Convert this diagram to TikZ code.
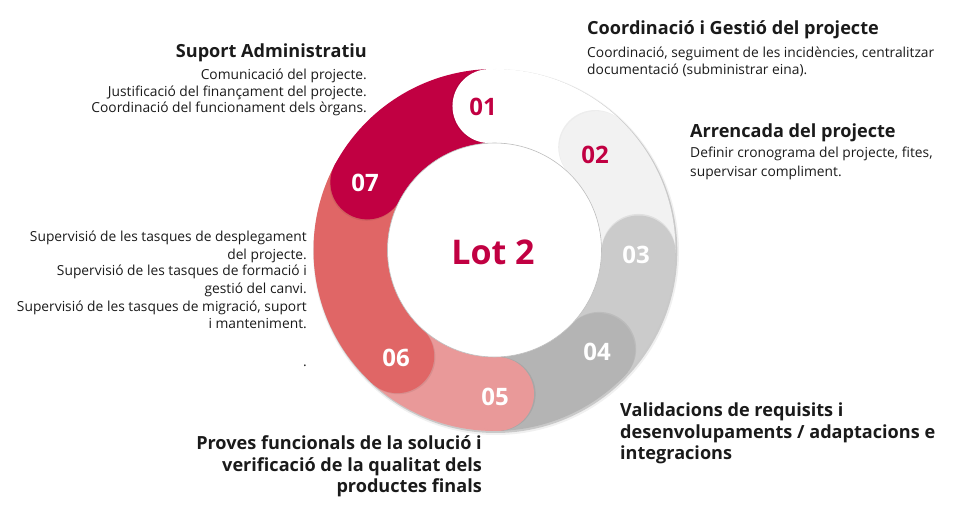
\documentclass[tikz,border=0pt]{standalone}
\usepackage{fontspec}
\setmainfont{Open Sans}
\definecolor{c01}{HTML}{FFFFFF}
\definecolor{c02}{HTML}{F2F2F2}
\definecolor{c03}{HTML}{CBCBCB}
\definecolor{c04}{HTML}{B4B4B4}
\definecolor{c05}{HTML}{E99999}
\definecolor{c06}{HTML}{E06666}
\definecolor{c07}{HTML}{C10042}
\definecolor{txt}{HTML}{1A1A1A}
\newcommand\ringseg[3]{\fill[#3] ([shift={(#1:181pt)}]C) arc[start angle=#1,end angle=#2,radius=181pt] -- ([shift={(#2:107pt)}]C) arc[start angle=#2,end angle=#1,radius=107pt] -- cycle;}
\newcommand\ringcap[2]{\fill[black,opacity=0.07] ([shift={(#1:144pt)},shift={(#1+90:1.6pt)}]C) circle[radius=37pt];\fill[#2] ([shift={(#1:144pt)}]C) circle[radius=37pt];}
\begin{document}
\begin{tikzpicture}[x=1pt,y=1pt,
  body/.style={font=\fontsize{13.8}{16}\selectfont, text=txt, inner sep=0pt},
  head/.style={font=\bfseries\fontsize{18.1}{21}\selectfont, text=txt, inner sep=0pt},
  num/.style={font=\bfseries\fontsize{24}{26}\selectfont, inner sep=0pt},
]
\useasboundingbox (0,0) rectangle (961,514);
\coordinate (C) at (494.5,264);
% shadow of ring
\fill[black,opacity=0.06] ([shift={(1.5pt,-2pt)}]C) circle[radius=183pt];
\fill[black,opacity=0.16] ([shift={(1pt,-1.2pt)}]C) circle[radius=181.8pt];
% bodies
\ringseg{92}{45}{c01}
\ringseg{45}{-1}{c02}
\ringseg{-1}{-44}{c03}
\ringseg{-44}{-89}{c04}
\ringseg{-89}{-132.5}{c05}
\ringseg{-132.5}{-208}{c06}
\ringseg{-208}{-268}{c07}
% caps
\begin{scope}
\clip (C) circle[radius=181pt];
\ringcap{92}{c01}
\ringcap{45}{c02}
\ringcap{-1}{c03}
\ringcap{-44}{c04}
\ringcap{-89}{c05}
\ringcap{-132.5}{c06}
\ringcap{-208}{c07}
\end{scope}
% inner circle
\fill[white] (C) circle[radius=107pt];
\draw[black!25,line width=0.6pt] (C) circle[radius=107pt];
% numbers
\node[num,text=c07] (n01) at (483,407) {01};
\node[num,text=c07] (n02) at (595,359) {02};
\node[num,text=white] (n03) at (636,259) {03};
\node[num,text=white] (n04) at (597,162) {04};
\node[num,text=white] (n05) at (495,117) {05};
\node[num,text=white] (n06) at (396,156) {06};
\node[num,text=white] (n07) at (365,331) {07};
\node[font=\bfseries\fontsize{34}{36}\selectfont,text=c07,inner sep=0pt] (lot) at (493,262) {Lot 2};
% texts
\node[head,anchor=base west] (h1) at (587,479) {Coordinació i Gestió del projecte};
\node[body,anchor=base west] (b1a) at (587,456.3) {Coordinació, seguiment de les incidències, centralitzar};
\node[body,anchor=base west] (b1b) at (587,439) {documentació (subministrar eina).};
\node[head,anchor=base west] (h2) at (690,376) {Arrencada del projecte};
\node[body,anchor=base west] (b2a) at (690,356) {Definir cronograma del projecte, fites,};
\node[body,anchor=base west] (b2b) at (690,337) {supervisar compliment.};
\node[head,anchor=base east] (h7) at (367,456) {Suport Administratiu};
\node[body,anchor=base east] (b7a) at (367,434) {Comunicació del projecte.};
\node[body,anchor=base east] (b7b) at (367,417) {Justificació del finançament del projecte.};
\node[body,anchor=base east] (b7c) at (367,401) {Coordinació del funcionament dels òrgans.};
\node[body,anchor=base east] (b6a) at (307,272.3) {Supervisió de les tasques de desplegament};
\node[body,anchor=base east] (b6b) at (307,254.7) {del projecte.};
\node[body,anchor=base east] (b6c) at (307,238) {Supervisió de les tasques de formació i};
\node[body,anchor=base east] (b6d) at (307,220.7) {gestió del canvi.};
\node[body,anchor=base east] (b6e) at (307,202.3) {Supervisió de les tasques de migració, suport};
\node[body,anchor=base east] (b6f) at (307,185.7) {i manteniment.};
\node[body,anchor=base east] (b6g) at (307,147.3) {.};
\node[head,anchor=base east] (h5a) at (482,64) {Proves funcionals de la solució i};
\node[head,anchor=base east] (h5b) at (482,42.5) {verificació de la qualitat dels};
\node[head,anchor=base east] (h5c) at (482,21) {productes finals};
\node[head,anchor=base west] (h4a) at (620,97.3) {Validacions de requisits i};
\node[head,anchor=base west] (h4b) at (620,75.7) {desenvolupaments / adaptacions e};
\node[head,anchor=base west] (h4c) at (620,54) {integracions};
\end{tikzpicture}
\end{document}
